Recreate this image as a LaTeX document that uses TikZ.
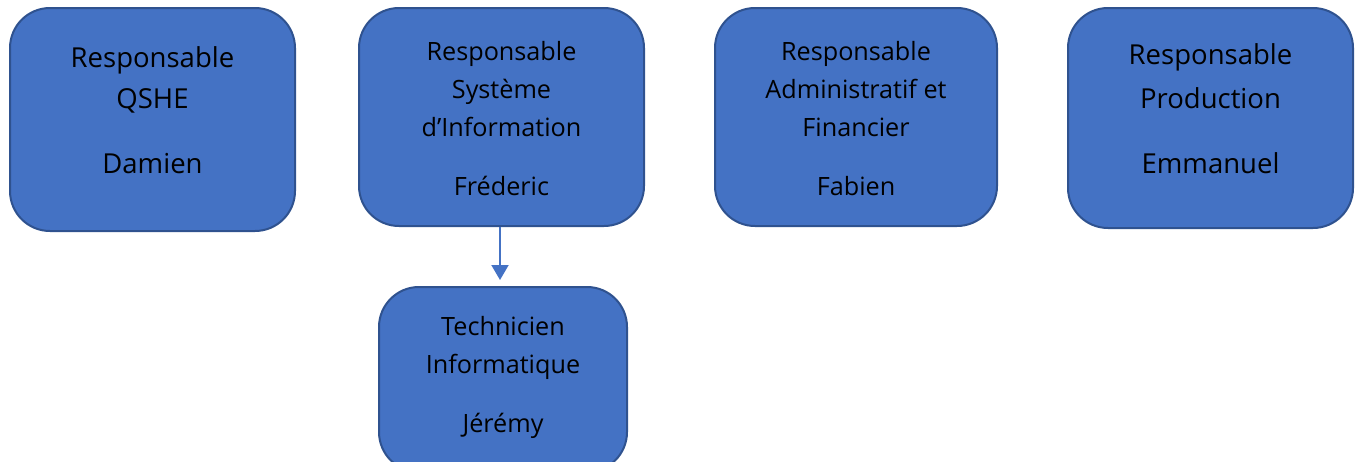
\documentclass[tikz,border=0pt]{standalone}
\usepackage{fontspec}
\setmainfont{Open Sans}
\usetikzlibrary{arrows.meta}
\definecolor{boxfill}{HTML}{4472C4}
\definecolor{boxedge}{HTML}{2F528F}
\tikzset{
  card/.style={draw=boxedge, line width=2pt, fill=boxfill, rounded corners=40pt,
    inner sep=0pt, anchor=center},
  big/.style={anchor=base, inner sep=0pt, font=\fontsize{27.5}{31}\selectfont},
  small/.style={anchor=base, inner sep=0pt, font=\fontsize{25.2}{29}\selectfont},
  link/.style={draw=boxfill, line width=2pt, -{Triangle[length=15pt,width=17pt]}}
}
\begin{document}
\begin{tikzpicture}[x=1pt,y=-1pt]
\useasboundingbox (0,0) rectangle (1359,461);
% boxes
\node[card, minimum width=285pt, minimum height=223pt] (qshe) at (152.5,119.5) {};
\node[card, minimum width=285pt, minimum height=218pt] (si) at (501.5,117) {};
\node[card, minimum width=282pt, minimum height=218pt] (daf) at (856,117) {};
\node[card, minimum width=285pt, minimum height=220pt] (prod) at (1210.5,118) {};
\node[card, minimum width=248pt, minimum height=185pt] (tech) at (503,379.5) {};
% texts
\node[big] (qshe1) at (152.5,67) {Responsable};
\node[big] (qshe2) at (152.5,108) {QSHE};
\node[big] (qshe3) at (152.5,173) {Damien};
\node[small] (si1) at (501.5,60) {Responsable};
\node[small] (si2) at (501.5,98) {Système};
\node[small] (si3) at (501.5,136) {d’Information};
\node[small] (si4) at (501.5,195) {Fréderic};
\node[small] (daf1) at (856,60) {Responsable};
\node[small] (daf2) at (856,98) {Administratif et};
\node[small] (daf3) at (856,136) {Financier};
\node[small] (daf4) at (856,195) {Fabien};
\node[big] (prod1) at (1210.5,64) {Responsable};
\node[big] (prod2) at (1210.5,108) {Production};
\node[big] (prod3) at (1210.5,173) {Emmanuel};
\node[small] (tech1) at (503,335) {Technicien};
\node[small] (tech2) at (503,373) {Informatique};
\node[small] (tech3) at (503,432) {Jérémy};
% connector
\coordinate (techtop) at ([xshift=-1.5pt]si.south |- tech.north);
\draw[link, shorten >=6pt] ([xshift=-1.5pt]si.south) -- (techtop);
\end{tikzpicture}
\end{document}
